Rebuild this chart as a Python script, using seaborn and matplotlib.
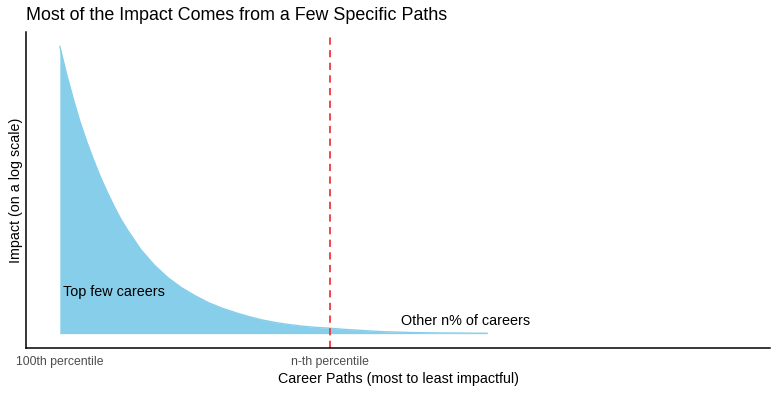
import matplotlib
matplotlib.use("Agg")
import matplotlib.pyplot as plt
import seaborn as sns
import pandas as pd

# career rank position (0 = most impactful) and impact
career_pos = [0, 2.5, 5, 7.5, 10, 12.5, 15, 17.5, 20, 22.5, 25, 27.5, 30, 35,
              40, 45, 50, 55, 60, 65, 70, 75, 80, 85, 90, 95, 100, 105, 110,
              115, 120, 125, 130, 135, 140, 145, 150, 155, 158]
impact = [288, 260, 235, 212, 192, 174, 157, 142, 128, 115, 104, 94, 84, 68.5,
          56, 46, 38, 31, 25.5, 21, 17, 13.6, 11, 9, 7.4, 6.2, 5.4, 4.3, 3.5,
          2.6, 1.9, 1.5, 1.1, 0.9, 0.7, 0.6, 0.5, 0.4, 0.4]

tick_pos = [0, 100]
tick_labels = ["100th percentile", "n-th percentile"]
cutoff = 100
x_limits = [0, 250]

df = pd.DataFrame({"pos": career_pos, "impact": impact})

sns.set_style("white")
plt.rcParams["font.family"] = ["Liberation Sans", "DejaVu Sans"]
plt.rcParams["text.color"] = "black"
plt.rcParams["axes.labelcolor"] = "black"

fig = plt.figure(figsize=(7.79, 3.94), dpi=100)
ax = fig.add_axes([26 / 779, 1 - 348 / 394, (770 - 26) / 779, (348 - 32) / 394])

fill_col = "#87CEEB"
ax.fill_between(df["pos"], 0, df["impact"], color=fill_col, linewidth=0)
sns.lineplot(data=df, x="pos", y="impact", color=fill_col, linewidth=1, ax=ax)

ax.axvline(cutoff, color="#F0383C", linestyle=(0, (4, 3)), linewidth=1.3)

ax.text(1, 42, "Top few careers", fontsize=10.4, va="center", ha="left", color="black")
ax.text(126, 13, "Other n% of careers", fontsize=10.4, va="center", ha="left", color="black")

span = x_limits[1] - x_limits[0]
ax.set_xlim(x_limits[0] - 0.05 * span, x_limits[1] + 0.05 * span)
top = max(impact)
ax.set_ylim(-0.05 * top, top * 1.05)

ax.set_xticks(tick_pos)
ax.set_xticklabels(tick_labels, fontsize=8.8, color="#4D4D4D")
ax.set_yticks([])
ax.tick_params(axis="x", length=3.5, width=1, color="#333333", pad=2)

for side in ["top", "right"]:
    ax.spines[side].set_visible(False)
for side in ["left", "bottom"]:
    ax.spines[side].set_color("black")
    ax.spines[side].set_linewidth(1.1)

ax.set_xlabel("Career Paths (most to least impactful)", fontsize=10.3, labelpad=3)
ax.set_ylabel("Impact (on a log scale)", fontsize=10.3, labelpad=2)
fig.text(26 / 779, 1 - 15 / 394, "Most of the Impact Comes from a Few Specific Paths",
         fontsize=12.9, ha="left", va="center")

fig.savefig("out.png", dpi=100)
